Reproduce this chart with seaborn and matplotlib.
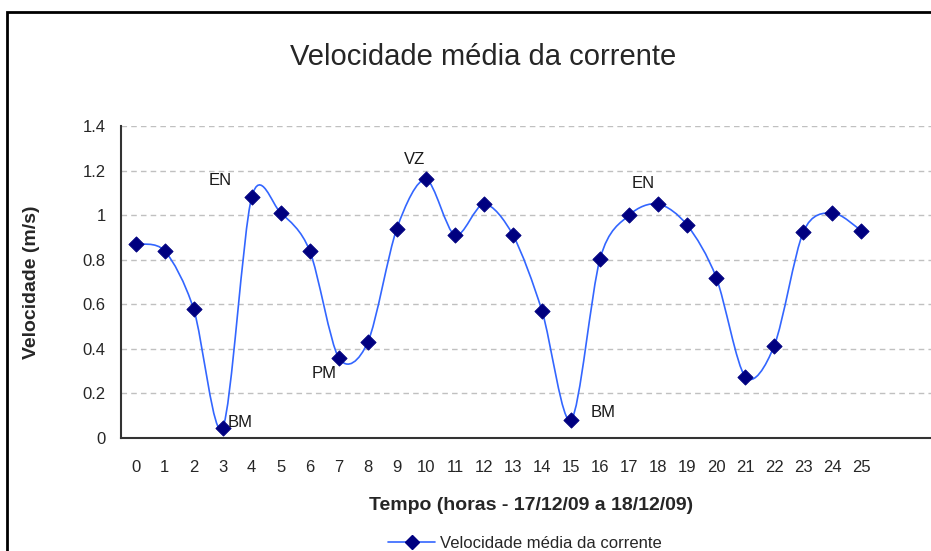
import numpy as np
import seaborn as sns
import matplotlib
matplotlib.use("Agg")
from matplotlib import pyplot as plt
from matplotlib.path import Path
from matplotlib.patches import PathPatch, Rectangle
from matplotlib.lines import Line2D
from matplotlib.ticker import FuncFormatter

# hourly mean current speed (m/s), 17/12/09 to 18/12/09
horas = list(range(26))
velocidade = [0.87, 0.84, 0.58, 0.045, 1.08, 1.01, 0.84, 0.36, 0.43, 0.94,
              1.16, 0.91, 1.05, 0.91, 0.57, 0.08, 0.805, 1.0, 1.05, 0.955,
              0.72, 0.275, 0.415, 0.925, 1.01, 0.93]
rotulos = ["EN", "BM", "PM", "VZ", "EN", "BM"]
yticks = [0, 0.2, 0.4, 0.6, 0.8, 1.0, 1.2, 1.4]

LINHA = "#3366ff"
MARCA = "#000080"


def curva_suave(ax, x, y, k=1 / 6, **kw):
    # excel-like smoothed line: bezier segments through each point
    p = np.column_stack([x, y]).astype(float)
    pts = np.vstack([p[0], p, p[-1]])
    verts = [p[0]]
    codes = [Path.MOVETO]
    for i in range(len(p) - 1):
        c1 = pts[i + 1] + (pts[i + 2] - pts[i]) * k
        c2 = pts[i + 2] - (pts[i + 3] - pts[i + 1]) * k
        verts += [c1, c2, p[i + 1]]
        codes += [Path.CURVE4] * 3
    ax.add_patch(PathPatch(Path(verts, codes), fill=False, **kw))


sns.set_style("white")
plt.rcParams['font.family'] = ['Liberation Sans', 'DejaVu Sans']

fig = plt.figure(figsize=(9.31, 5.51), dpi=100)
ax = fig.add_axes([121 / 931, 113 / 551, 813 / 931, 312 / 551])

curva_suave(ax, horas, velocidade, k=0.15, edgecolor=LINHA, lw=1.2, zorder=2)
sns.scatterplot(x=horas, y=velocidade, marker='D', s=60, color=MARCA,
                edgecolor=MARCA, zorder=3, ax=ax, legend=False)

# tide stage labels, placed next to the marked points
marcados = [4, 3, 7, 10, 18, 15]
desloc = [(-1.1, 0.075), (0.6, 0.025), (-0.5, -0.07), (-0.4, 0.09), (-0.5, 0.09), (1.1, 0.035)]
for txt, i, (dx, dy) in zip(rotulos, marcados, desloc):
    ax.text(horas[i] + dx, velocidade[i] + dy, txt, ha='center', va='center',
            fontsize=12, color='#1a1a1a')

ax.set_xlim(-0.5, 27.5)
ax.set_ylim(0, 1.4)
ax.set_xticks(horas)
ax.set_xticks(np.arange(-0.5, 28, 1), minor=True)
ax.set_yticks(yticks)
ax.yaxis.set_major_formatter(FuncFormatter(lambda v, _: f"{round(v, 1):g}"))
ax.tick_params(axis='x', which='major', length=0, labelsize=12, pad=16)
ax.tick_params(axis='x', which='minor', length=6, width=1.2, color='#333333', direction='out')
ax.tick_params(axis='y', length=5, width=1.2, color='#333333', direction='out', labelsize=12, pad=6)
ax.yaxis.grid(True, linestyle=(0, (4, 3)), color='#c0c0c0', lw=1)
ax.xaxis.grid(False)
for s in ['top', 'right']:
    ax.spines[s].set_visible(False)
for s in ['left', 'bottom']:
    ax.spines[s].set_color('#333333')
    ax.spines[s].set_linewidth(1.5)

ax.set_ylabel("Velocidade (m/s)", fontsize=14, fontweight='bold')
ax.yaxis.set_label_coords((40 - 121) / 813, 0.5)
ax.set_xlabel("Tempo (horas - 17/12/09 a 18/12/09)", fontsize=14, fontweight='bold', va='center')
ax.xaxis.set_label_coords((531 - 121) / 813, (438 - 506) / 312)

fig.text(483 / 931, 1 - 57 / 551, "Velocidade média da corrente", ha='center', va='center', fontsize=21)

alca = Line2D([], [], color=LINHA, lw=1.2, marker='D', ms=7, mfc=MARCA, mec=MARCA)
fig.legend(handles=[alca], labels=["Velocidade média da corrente"], loc='center',
           bbox_to_anchor=(525 / 931, 1 - 543 / 551), frameon=False, fontsize=12,
           handlelength=2.8, handletextpad=0.3)

fig.add_artist(Rectangle((7 / 931, -0.1), 1.0, 1.078, transform=fig.transFigure,
                         fill=False, lw=2, ec='black'))

fig.savefig('out.png', dpi=100)
